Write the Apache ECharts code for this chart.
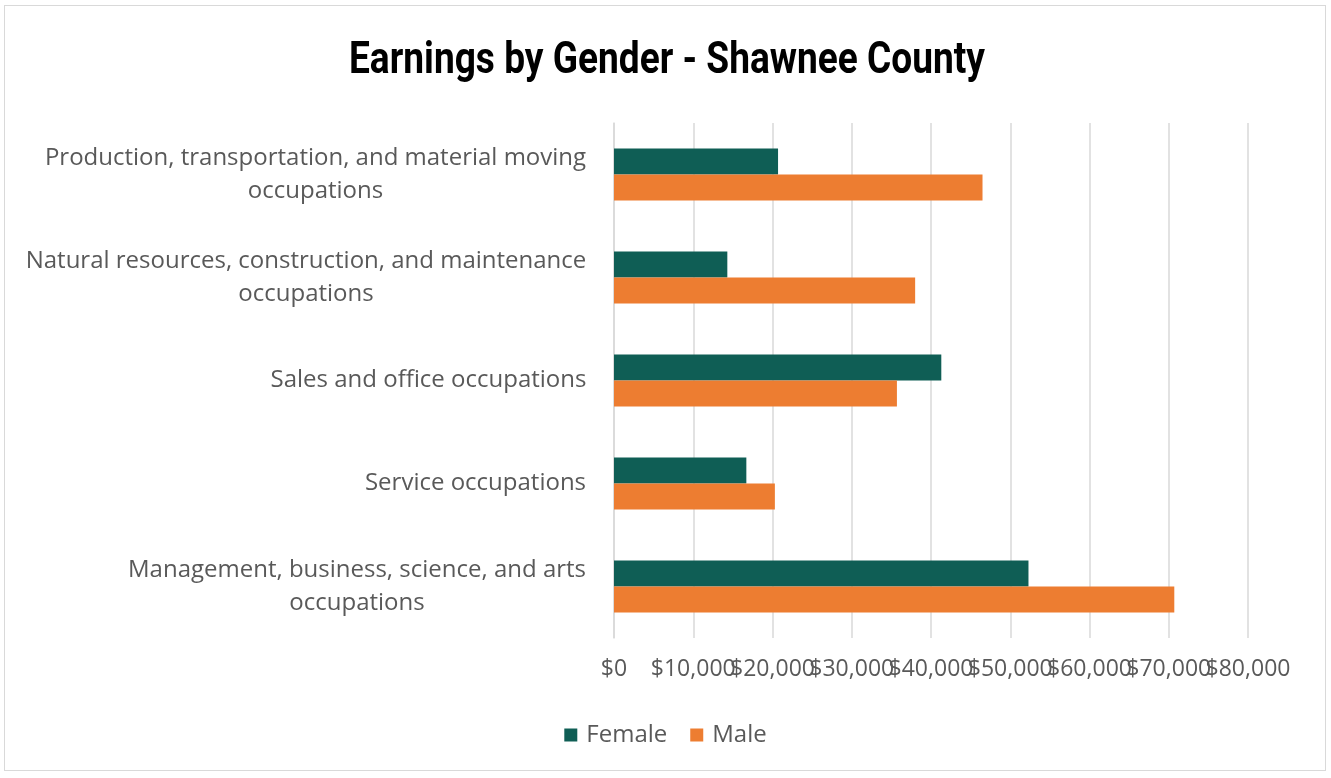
<!DOCTYPE html>
<html>
<head>
<meta charset="utf-8">
<script src="https://cdn.jsdelivr.net/npm/echarts@6/dist/echarts.min.js"></script>
<style>
  html, body { margin: 0; padding: 0; background: #fff; }
  #frame { position: absolute; left: 4px; top: 5px; width: 1322px; height: 766px; border: 1px solid #d9d9d9; box-sizing: border-box; }
  #chart { position: absolute; left: 0; top: 0; width: 1331px; height: 778px; }
</style>
</head>
<body>
<div id="frame"></div>
<div id="chart"></div>
<script>
// categories bottom -> top (ECharts draws the first category at the bottom)
var categories = [
    'Management, business, science, and arts\noccupations',
    'Service occupations',
    'Sales and office occupations',
    'Natural resources, construction, and maintenance\noccupations',
    'Production, transportation, and material moving\noccupations'
];
var female = [52300, 16700, 41300, 14300, 20700];
var male = [70700, 20300, 35700, 38000, 46500];
var titleText = 'Earnings by Gender - Shawnee County';
var axisMax = 80000;
var axisStep = 10000;

var labelColor = '#595959';
var labelFont = 'Open Sans';
var labelSize = 24;

// measure text so multi-line labels can be centred line by line
var ctx = document.createElement('canvas').getContext('2d');
ctx.font = labelSize + 'px "' + labelFont + '"';
var rich = {};
categories.forEach(function (c, i) {
    var w = 0;
    c.split('\n').forEach(function (l) { w = Math.max(w, ctx.measureText(l).width); });
    rich['c' + i] = {
        width: Math.ceil(w) + 1,
        align: 'center',
        color: labelColor,
        fontSize: labelSize,
        fontFamily: labelFont,
        lineHeight: 33
    };
});

// condensed-looking title: squeeze a bold font horizontally
ctx.font = 'bold 44px Roboto';
var titleScale = 636 / ctx.measureText(titleText).width;

function money(v) { return '$' + v.toLocaleString('en-US'); }

var tickLabel = { color: labelColor, fontSize: 23, fontFamily: labelFont, margin: 20, showMinLabel: true, showMaxLabel: true };

var myChart = echarts.init(document.getElementById('chart'));

myChart.setOption({
    animation: false,
    graphic: [{
        type: 'text',
        x: 667,
        y: 62,
        scaleX: titleScale,
        style: {
            text: titleText,
            font: 'bold 44px Roboto',
            fill: '#000',
            textAlign: 'center',
            textVerticalAlign: 'middle'
        }
    }],
    legend: {
        bottom: 26,
        left: 'center',
        itemWidth: 13,
        itemHeight: 13,
        itemGap: 23,
        icon: 'rect',
        textStyle: { color: labelColor, fontSize: labelSize, fontFamily: labelFont, padding: [0, 0, 0, 4] },
        data: ['Female', 'Male']
    },
    grid: { left: 614, right: 83, top: 123, bottom: 140, containLabel: false },
    xAxis: [
        {
            type: 'value',
            position: 'bottom',
            min: 0,
            max: axisMax,
            interval: axisStep,
            axisLine: { show: false },
            axisTick: { show: false },
            splitLine: { lineStyle: { color: '#d9d9d9', width: 1.5 } },
            axisLabel: Object.assign({}, tickLabel, {
                formatter: function (v) { return v === axisMax ? '' : money(v); }
            })
        },
        {
            // second copy of the axis only carries the last label, since the
            // labels overlap like in the original and ECharts would drop one
            type: 'value',
            position: 'bottom',
            min: 0,
            max: axisMax,
            interval: axisStep,
            axisLine: { show: false },
            axisTick: { show: false },
            splitLine: { show: false },
            axisLabel: Object.assign({}, tickLabel, {
                formatter: function (v) { return v === axisMax ? money(v) : ''; }
            })
        }
    ],
    yAxis: {
        type: 'category',
        data: categories,
        axisLine: { show: true, lineStyle: { color: '#d9d9d9', width: 1.5 } },
        axisTick: { show: false },
        axisLabel: {
            align: 'right',
            margin: 27,
            rich: rich,
            formatter: function (value, index) {
                return value.split('\n').map(function (l) {
                    return '{c' + index + '|' + l + '}';
                }).join('\n');
            }
        }
    },
    series: [
        {
            name: 'Female',
            type: 'bar',
            data: female,
            barWidth: 26,
            barGap: '0%',
            itemStyle: { color: '#0f5e55' }
        },
        {
            name: 'Male',
            type: 'bar',
            data: male,
            barWidth: 26,
            barGap: '0%',
            itemStyle: { color: '#ed7d31' }
        }
    ]
});
</script>
</body>
</html>
